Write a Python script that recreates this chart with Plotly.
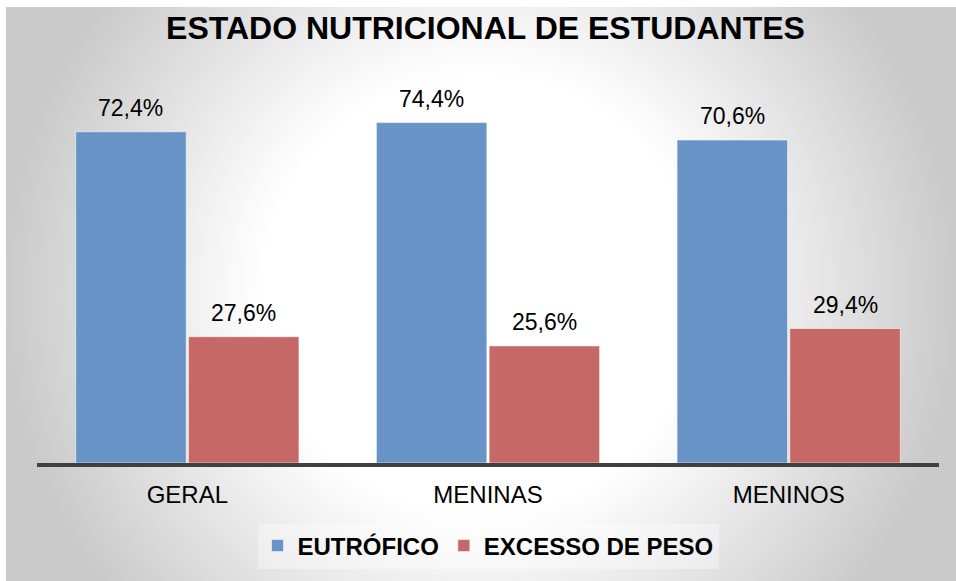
import base64
import plotly.graph_objects as go

# Nutritional status of students, in percent
categories = ["GERAL", "MENINAS", "MENINOS"]
eutrofico = [72.4, 74.4, 70.6]
excesso_peso = [27.6, 25.6, 29.4]
series_names = ["EUTRÓFICO", "EXCESSO DE PESO"]

W, H = 956, 581
ML, MR, MT, MB = 37, 17, 97, 118
plot_w = W - ML - MR
plot_h = H - MT - MB

FONT = "Arial, Liberation Sans, sans-serif"
BLUE = "#6793C6"
RED = "#C66865"


def pct(v):
    return f"{v:.1f}%".replace(".", ",")


fig = go.Figure()
fig.add_trace(go.Bar(
    x=categories, y=eutrofico, name=series_names[0],
    marker=dict(color=BLUE, line=dict(color="rgba(255,255,255,0.55)", width=1)),
    hoverinfo="skip",
))
fig.add_trace(go.Bar(
    x=categories, y=excesso_peso, name=series_names[1],
    marker=dict(color=RED, line=dict(color="rgba(255,255,255,0.55)", width=1)),
    hoverinfo="skip",
))

# value labels above each bar
slot_px = plot_w / len(categories)
half_bar = slot_px * 0.75 / 4
annotations = []
for series, sign in ((eutrofico, -1), (excesso_peso, 1)):
    for cat, v in zip(categories, series):
        annotations.append(dict(
            x=cat, y=v, xref="x", yref="y", text=pct(v), showarrow=False,
            xanchor="center", yanchor="middle", xshift=sign * half_bar, yshift=24,
            font=dict(family=FONT, size=23, color="#000000"),
        ))

# soft radial background behind the whole chart
bg_w, bg_h = W - 6, H - 7
svg = f"""<svg xmlns='http://www.w3.org/2000/svg' width='{bg_w}' height='{bg_h}'>
<defs><radialGradient id='g' gradientUnits='userSpaceOnUse' cx='{bg_w/2}' cy='{bg_h/2}' r='475'>
<stop offset='0' stop-color='#FFFFFF'/><stop offset='0.46' stop-color='#FFFFFF'/>
<stop offset='1' stop-color='#CACACA'/></radialGradient></defs>
<rect x='0' y='0' width='{bg_w}' height='{bg_h}' fill='url(#g)'/></svg>"""
src = "data:image/svg+xml;base64," + base64.b64encode(svg.encode()).decode()

fig.update_layout(
    width=W, height=H,
    margin=dict(l=ML, r=MR, t=MT, b=MB, pad=0),
    paper_bgcolor="#FFFFFF",
    plot_bgcolor="rgba(0,0,0,0)",
    barmode="group", bargap=0.25, bargroupgap=0.02,
    title=dict(
        text="ESTADO NUTRICIONAL DE ESTUDANTES",
        x=485.5 / W, xref="container", xanchor="center",
        y=1 - 28 / H, yref="container", yanchor="middle",
        font=dict(family=FONT, size=32, color="#000000", weight="bold"),
    ),
    xaxis=dict(
        showline=True, linecolor="#404040", linewidth=4,
        ticks="outside", ticklen=0, tickcolor="rgba(0,0,0,0)",
        ticklabelstandoff=7,
        tickfont=dict(family=FONT, size=24, color="#000000"),
        showgrid=False, zeroline=False, fixedrange=True,
    ),
    yaxis=dict(range=[0, 80], visible=False, showgrid=False, zeroline=False, fixedrange=True),
    showlegend=True,
    legend=dict(
        orientation="h", x=0.5, xanchor="center", y=(463 - 546) / plot_h, yanchor="middle",
        bgcolor="rgba(255,255,255,0.35)",
        font=dict(family=FONT, size=24, color="#000000", weight="bold"),
        itemclick=False, itemdoubleclick=False,
    ),
    annotations=annotations,
    images=[dict(
        source=src, xref="paper", yref="paper",
        x=(6 - ML) / plot_w, y=(H - MB - 7) / plot_h,
        sizex=bg_w / plot_w, sizey=bg_h / plot_h,
        xanchor="left", yanchor="top", sizing="stretch", layer="below",
    )],
)

fig.write_html("out.html", config={"displayModeBar": False})
